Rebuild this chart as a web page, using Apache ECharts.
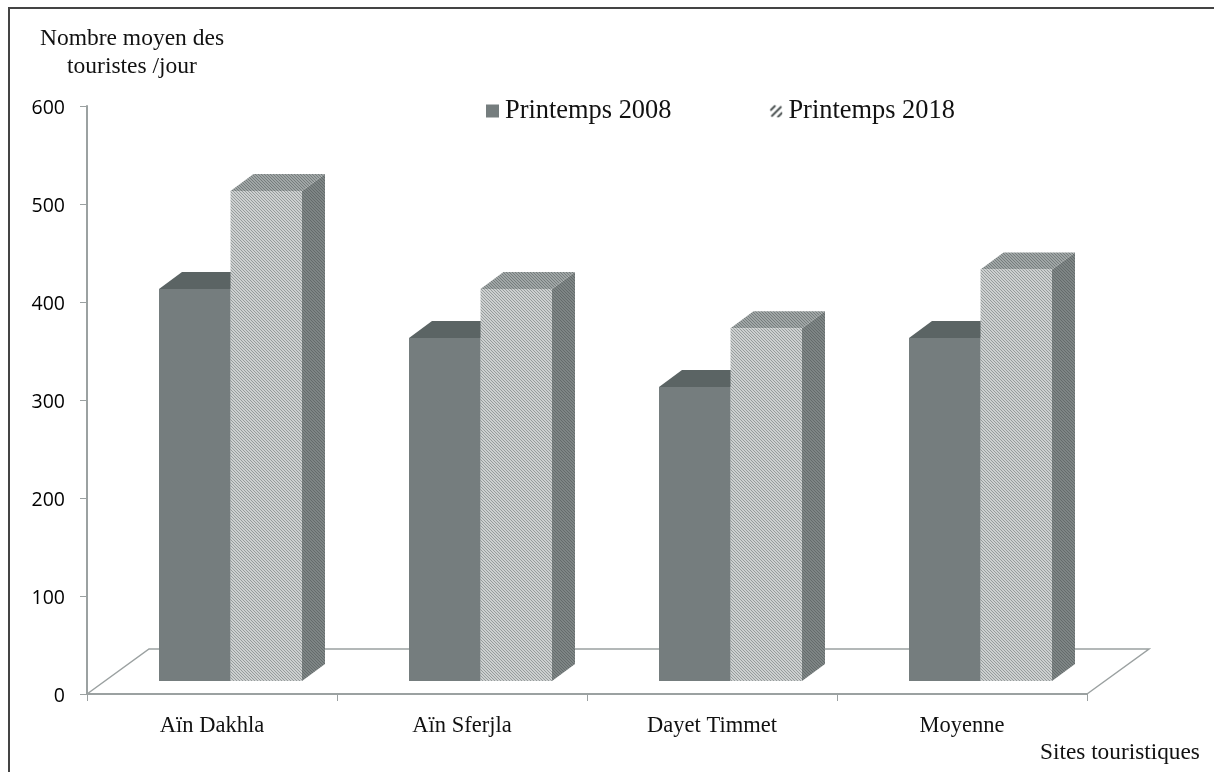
<!DOCTYPE html>
<html><head><meta charset="utf-8">
<style>html,body{margin:0;padding:0;background:#fff}#c{width:1214px;height:772px}</style>
<script src="https://cdn.jsdelivr.net/npm/echarts@6/dist/echarts.min.js"></script>
</head><body><div id="c"></div>
<script>
const categories = ['Aïn Dakhla', 'Aïn Sferjla', 'Dayet Timmet', 'Moyenne'];
const seriesNames = ['Printemps 2008', 'Printemps 2018'];
const spring2008 = [400, 350, 300, 350];
const spring2018 = [500, 400, 360, 420];
const yTicks = [0, 100, 200, 300, 400, 500, 600];

function stripes(size, bg, fg, width) {
  const c = document.createElement('canvas');
  c.width = c.height = size;
  const g = c.getContext('2d');
  g.fillStyle = bg; g.fillRect(0, 0, size, size);
  g.strokeStyle = fg; g.lineWidth = width;
  for (let i = -size; i <= 2 * size; i += size) {
    g.beginPath(); g.moveTo(i, 0); g.lineTo(i + size, size); g.stroke();
  }
  return { image: c, repeat: 'repeat' };
}
const front18 = stripes(3, '#cdd0d0', '#969c9c', 1);
const top18 = stripes(3, '#a0a6a6', '#757c7c', 1);
const side18 = stripes(3, '#7e8585', '#646b6b', 1);
const legend18 = (function () {
  const c = document.createElement('canvas');
  c.width = c.height = 14;
  const g = c.getContext('2d');
  g.fillStyle = '#fff'; g.fillRect(0, 0, 14, 14);
  g.strokeStyle = '#444b4b'; g.lineWidth = 1.8;
  [[1, 6, 6, 1], [2, 12, 12, 2], [8, 13, 13, 8]].forEach(function (s) {
    g.beginPath(); g.moveTo(s[0], s[1]); g.lineTo(s[2], s[3]); g.stroke();
  });
  return { image: c, repeat: 'no-repeat' };
})();

const DEPTH_X = 23, DEPTH_Y = 17, LIFT = 13, BAR_W = 0.286, SHIFT = 0.074;

function barRenderer(which, front, top, side) {
  return function (params, api) {
    const p = api.coord([api.value(0), api.value(1)]);
    const band = api.size([1, 0])[0];
    const base = api.coord([api.value(0), 0])[1] - LIFT;
    const w = band * BAR_W;
    const x0 = p[0] + band * SHIFT + (which - 1) * w;
    const x1 = x0 + w;
    const y = p[1] - LIFT;
    const poly = function (pts, fill) {
      return { type: 'polygon', shape: { points: pts }, style: { fill: fill, stroke: null } };
    };
    return { type: 'group', children: [
      poly([[x1, y], [x1 + DEPTH_X, y - DEPTH_Y], [x1 + DEPTH_X, base - DEPTH_Y], [x1, base]], side),
      poly([[x0, y], [x0 + DEPTH_X, y - DEPTH_Y], [x1 + DEPTH_X, y - DEPTH_Y], [x1, y]], top),
      poly([[x0, y], [x1, y], [x1, base], [x0, base]], front)
    ] };
  };
}

const chart = echarts.init(document.getElementById('c'));
chart.setOption({
  animation: false,
  backgroundColor: '#fff',
  grid: { left: 87, top: 106, width: 1000, height: 588, containLabel: false },
  title: [
    { text: 'Nombre moyen des\ntouristes /jour', left: 127, top: 20, textAlign: 'center',
      textStyle: { fontFamily: 'Liberation Serif', fontSize: 23.5, fontWeight: 'normal', color: '#111', lineHeight: 28 } },
    { text: 'Sites touristiques', left: 1035, top: 736,
      textStyle: { fontFamily: 'Liberation Serif', fontSize: 23.3, fontWeight: 'normal', color: '#111' } }
  ],
  legend: {
    left: 481, top: 93, itemWidth: 13, itemHeight: 13, itemGap: 98,
    textStyle: { fontFamily: 'Liberation Serif', fontSize: 26.4, color: '#111', padding: [0, 0, 0, 1] },
    data: [
      { name: seriesNames[0], icon: 'rect', itemStyle: { color: '#757d7e' } },
      { name: seriesNames[1], icon: 'rect', itemStyle: { color: legend18 } }
    ]
  },
  xAxis: {
    type: 'category', data: categories,
    axisLine: { lineStyle: { color: '#9ba1a1', width: 2 } },
    axisTick: { show: true, length: 7, alignWithLabel: false, lineStyle: { color: '#9ba1a1', width: 1 } },
    axisLabel: { color: '#111', fontFamily: 'Liberation Serif', fontSize: 22.5, margin: 21 },
    splitLine: { show: false }
  },
  yAxis: {
    type: 'value', min: 0, max: 600, interval: 100,
    axisLine: { show: true, lineStyle: { color: '#9ba1a1', width: 2 } },
    axisTick: { show: true, length: 7, lineStyle: { color: '#9ba1a1', width: 1 } },
    axisLabel: { color: '#000', fontFamily: 'Open Sans', fontSize: 19.5, margin: 22,
      verticalAlign: 'top', lineHeight: 4, customValues: yTicks },
    splitLine: { show: false }
  },
  series: [
    { type: 'custom', silent: true, z: 1,
      data: [[0, 0]],
      renderItem: function (params, api) {
        const cs = params.coordSys;
        const dx = 62, dy = 45;
        const l = cs.x, r = cs.x + cs.width, b = cs.y + cs.height;
        return { type: 'polyline',
          shape: { points: [[l, b], [l + dx, b - dy], [r + dx, b - dy], [r, b]] },
          style: { stroke: '#9ba1a1', lineWidth: 1.5, fill: null } };
      } },
    { type: 'custom', name: seriesNames[0], z: 2, encode: { x: 0, y: 1 },
      data: spring2008.map(function (v, i) { return [i, v]; }),
      renderItem: barRenderer(0, '#757d7e', '#5b6464', '#757d7e') },
    { type: 'custom', name: seriesNames[1], z: 3, encode: { x: 0, y: 1 },
      data: spring2018.map(function (v, i) { return [i, v]; }),
      renderItem: barRenderer(1, front18, top18, side18) }
  ],
  graphic: [
    { type: 'polyline', silent: true, shape: { points: [[9, 772], [9, 8], [1214, 8]] },
      style: { fill: null, stroke: '#444', lineWidth: 2 } }
  ]
});
</script></body></html>
